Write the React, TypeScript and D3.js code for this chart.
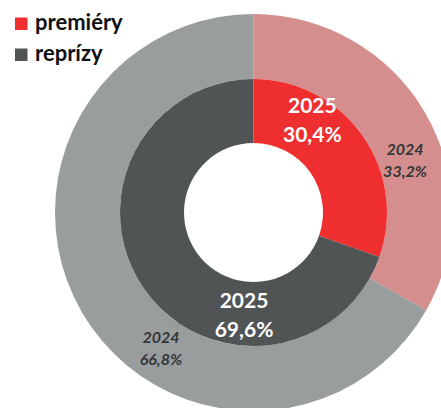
import React from "react";
import * as d3 from "d3";

const categories = ["premiéry", "reprízy"];
const values2025 = [30.4, 69.6];
const values2024 = [33.2, 66.8];
const labels2025 = ["30,4%", "69,6%"];
const labels2024 = ["33,2%", "66,8%"];
const innerColors = ["#EE2E2F", "#515455"];
const outerColors = ["#D48E8D", "#9A9D9E"];
const legendColors = ["#EE2E2F", "#515455"];

const W = 441, H = 408;
const cx = 253.5, cy = 212.5;
const rOuter = 198.5, rMid = 133.5, rHole = 69.5;
const FONT = "Lato, 'Open Sans', sans-serif";

export default function App() {
  const pie = d3.pie<number>().sort(null).value((d) => d);
  const inner = pie(values2025);
  const outer = pie(values2024);
  const arcIn = d3.arc<d3.PieArcDatum<number>>().innerRadius(rHole).outerRadius(rMid);
  const arcOut = d3.arc<d3.PieArcDatum<number>>().innerRadius(rMid).outerRadius(rOuter);

  const polar = (angle: number, r: number) => [cx + r * Math.sin(angle), cy - r * Math.cos(angle)];

  const inPos = [polar(0.553, 112), polar(Math.PI + 0.095, 100)];
  const outPos = [polar(1.231, 160.7), polar(Math.PI + 0.603, 163.2)];

  return (
    <svg width={W} height={H} style={{ position: "absolute", left: 0, top: 0 }}>
      <rect width={W} height={H} fill="#fff" />
      <g>
        {outer.map((d, i) => (
          <path key={"o" + i} d={arcOut(d) || ""} transform={`translate(${cx},${cy})`} fill={outerColors[i]} />
        ))}
        {inner.map((d, i) => (
          <path key={"i" + i} d={arcIn(d) || ""} transform={`translate(${cx},${cy})`} fill={innerColors[i]} />
        ))}
      </g>
      {inner.map((d, i) => (
        <text key={"il" + i} x={inPos[i][0]} y={inPos[i][1]} textAnchor="middle" fill="#fff" fontFamily={FONT} fontWeight="bold" fontSize={21}>
          <tspan x={inPos[i][0]} dy={-4}>2025</tspan>
          <tspan x={inPos[i][0]} dy={28.5}>{labels2025[i]}</tspan>
        </text>
      ))}
      {outer.map((d, i) => (
        <text key={"ol" + i} x={outPos[i][0]} y={outPos[i][1]} textAnchor="middle" fill="#333638" fontFamily={FONT} fontWeight="bold" fontStyle="italic" fontSize={16}>
          <tspan x={outPos[i][0]} dy={-4}>2024</tspan>
          <tspan x={outPos[i][0]} dy={22}>{labels2024[i]}</tspan>
        </text>
      ))}
      {categories.map((c, i) => (
        <g key={"lg" + i} transform={`translate(15,${17.5 + i * 31})`}>
          <rect x={0} y={0} width={12.5} height={12.5} fill={legendColors[i]} />
          <text x={20} y={12} fontFamily={FONT} fontWeight="bold" fontSize={22} fill="#111">{c}</text>
        </g>
      ))}
    </svg>
  );
}
